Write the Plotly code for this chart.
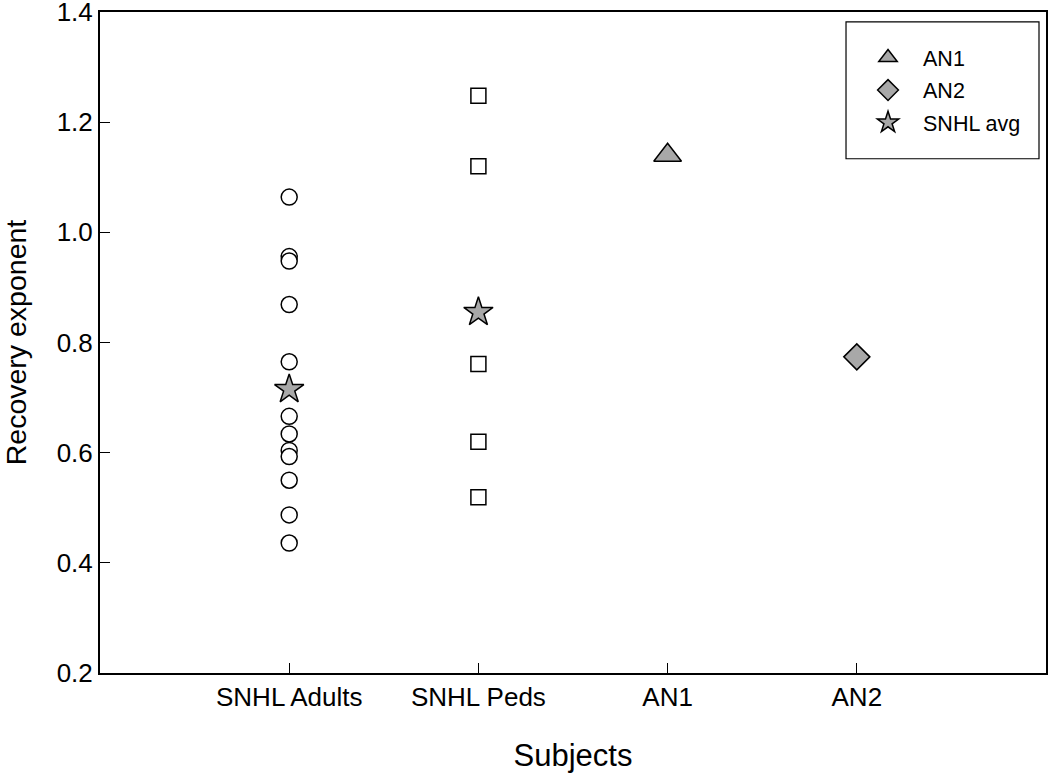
import plotly.graph_objects as go

categories = ["SNHL Adults", "SNHL Peds", "AN1", "AN2"]
cat_pos = [1, 2, 3, 4]

adults = [1.064, 0.956, 0.948, 0.869, 0.765, 0.666, 0.634, 0.604, 0.593, 0.550, 0.487, 0.436]
peds = [1.248, 1.120, 0.761, 0.620, 0.519]
an1 = [1.140]
an2 = [0.774]
snhl_avg = [0.715, 0.855]

y_ticks = [0.2, 0.4, 0.6, 0.8, 1.0, 1.2, 1.4]
y_ticklabels = ["0.2", "0.4", "0.6", "0.8", "1.0", "1.2", "1.4"]

GRAY = "#a8a8a8"
LINE = dict(color="black", width=1.5)

fig = go.Figure()
fig.add_trace(go.Scatter(x=[cat_pos[0]] * len(adults), y=adults, mode="markers",
                         marker=dict(symbol="circle", size=16, color="white", line=LINE),
                         showlegend=False))
fig.add_trace(go.Scatter(x=[cat_pos[1]] * len(peds), y=peds, mode="markers",
                         marker=dict(symbol="square", size=15, color="white", line=LINE),
                         showlegend=False))
fig.add_trace(go.Scatter(x=[cat_pos[2]], y=an1, mode="markers", name="AN1", legendgroup="a",
                         marker=dict(symbol="triangle-up", size=24, color=GRAY, line=LINE)))
fig.add_trace(go.Scatter(x=[cat_pos[3]], y=an2, mode="markers", name="AN2", legendgroup="b",
                         marker=dict(symbol="diamond", size=20, color=GRAY, line=LINE)))
fig.add_trace(go.Scatter(x=cat_pos[:2], y=snhl_avg, mode="markers", name="SNHL avg", legendgroup="c",
                         marker=dict(symbol="star", size=22, color=GRAY, line=LINE)))

font = "Liberation Sans, Arial, sans-serif"
axis_common = dict(showgrid=False, zeroline=False, showline=True, linecolor="black", linewidth=2,
                   mirror=True, ticks="inside", ticklen=10, tickwidth=1.2, tickcolor="black",
                   tickfont=dict(size=26), automargin=False, ticklabeloverflow="allow")
fig.update_layout(
    width=1050, height=774,
    margin=dict(l=100, r=4, t=12, b=101),
    paper_bgcolor="white", plot_bgcolor="white",
    font=dict(family=font, color="black", size=26),
    legend=dict(x=0.796, y=0.962, xanchor="left", yanchor="top",
                borderwidth=0, bgcolor="rgba(0,0,0,0)",
                font=dict(size=21.5), itemsizing="trace", itemwidth=60,
                traceorder="grouped", tracegroupgap=1.5),
    # legend frame
    shapes=[dict(type="rect", xref="paper", yref="paper", x0=0.7886, x1=0.9926, y0=0.778, y1=0.985,
                 line=dict(color="black", width=1.2), fillcolor="rgba(0,0,0,0)", layer="above")],
    xaxis=dict(range=[0, 5], tickvals=cat_pos, ticktext=categories,
               title=dict(text="Subjects", font=dict(size=31), standoff=33), **axis_common),
    yaxis=dict(range=[0.2, 1.4001], tickvals=y_ticks, ticktext=y_ticklabels,
               title=dict(text="Recovery exponent", font=dict(size=28.5), standoff=31), **axis_common),
)

fig.write_html("out.html", post_script="document.body.style.margin='0';",
               config={"displayModeBar": False})
